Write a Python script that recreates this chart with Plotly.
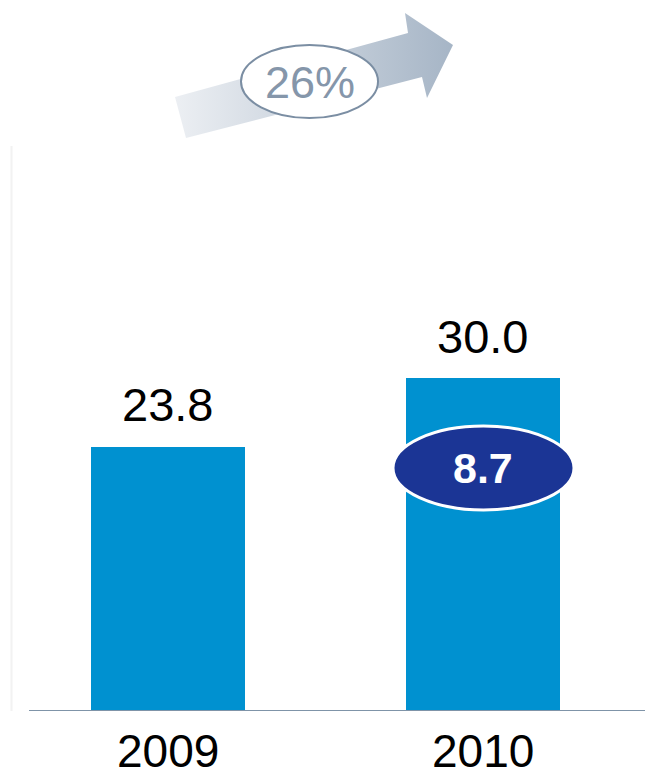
import plotly.graph_objects as go

# Chart values
years = ["2009", "2010"]
totals = [23.8, 30.0]
value_labels = ["23.8", "30.0"]
growth_label = "26%"
highlight_label = "8.7"

W, H = 646, 779
BASE_PX = 711          # y pixel of the axis baseline
PX_PER_UNIT = 11.1     # vertical scale of the bars

FONT = "Liberation Sans, Arial, Helvetica, sans-serif"

fig = go.Figure()

# Bars
fig.add_trace(go.Bar(
    x=years, y=totals, width=0.489,
    marker=dict(color="#0091D0", line=dict(width=0)),
    hoverinfo="skip", showlegend=False,
))

# Value labels above the bars
for i, (v, lab) in enumerate(zip(totals, value_labels)):
    fig.add_annotation(
        x=i, y=v, text=lab, showarrow=False,
        xref="x", yref="y", yanchor="middle", yshift=42,
        font=dict(family=FONT, size=47, color="#000000"),
    )

# Year labels under the baseline
for i, yr in enumerate(years):
    fig.add_annotation(
        x=i, y=0, text=yr, showarrow=False,
        xref="x", yref="y", yanchor="bottom", yshift=-67,
        borderpad=0,
        font=dict(family=FONT, size=46, color="#000000"),
    )

# Growth arrow (pixel overlay axes x2/y2, y grows downward)
arrow_x = [175, 408, 405, 453, 427, 422, 186, 175]
arrow_y = [97, 33, 13, 45, 98, 77, 138, 97]
fig.add_trace(go.Scatter(
    x=arrow_x, y=arrow_y, xaxis="x2", yaxis="y2",
    mode="lines", line=dict(width=0, color="rgba(0,0,0,0)"),
    fill="toself",
    fillgradient=dict(type="horizontal",
                      colorscale=[[0, "#eceff3"], [1, "#a6b5c6"]]),
    hoverinfo="skip", showlegend=False,
))

shapes = [
    # faint left rule
    dict(type="line", xref="x2", yref="y2", x0=11.5, x1=11.5, y0=146, y1=711,
         line=dict(color="#f2f2f2", width=2)),
    # baseline
    dict(type="line", xref="x2", yref="y2", x0=29, x1=645, y0=711.5, y1=711.5,
         line=dict(color="#7f94a8", width=3)),
    # growth ellipse
    dict(type="circle", xref="x2", yref="y2", x0=241, x1=378, y0=45, y1=118,
         fillcolor="#ffffff", line=dict(color="#7b8ea3", width=2)),
    # highlight ellipse
    dict(type="circle", xref="x2", yref="y2", x0=393, x1=574, y0=426, y1=510,
         fillcolor="#1B3595", line=dict(color="#ffffff", width=3)),
]

fig.add_annotation(x=310, y=82, xref="x2", yref="y2", text=growth_label,
                   showarrow=False,
                   font=dict(family=FONT, size=45, color="#8596aa"))
fig.add_annotation(x=483, y=468, xref="x2", yref="y2",
                   text="<b>" + highlight_label + "</b>", showarrow=False,
                   font=dict(family=FONT, size=43, color="#ffffff"))

fig.update_layout(
    width=W, height=H,
    margin=dict(l=0, r=0, t=0, b=H - BASE_PX, pad=0, autoexpand=False),
    paper_bgcolor="white", plot_bgcolor="rgba(0,0,0,0)",
    shapes=shapes,
    bargap=0,
    xaxis=dict(type="category", range=[-0.5333, 1.5175], automargin=False,
               showgrid=False, zeroline=False, showline=False,
               showticklabels=False, ticks="", fixedrange=True),
    yaxis=dict(range=[0, BASE_PX / PX_PER_UNIT], visible=False,
               automargin=False,
               showgrid=False, zeroline=False, fixedrange=True),
    xaxis2=dict(range=[0, W], overlaying="x", anchor="y2", visible=False,
                fixedrange=True),
    yaxis2=dict(range=[BASE_PX, 0], overlaying="y", anchor="x2",
                visible=False, fixedrange=True),
)

fig.write_html("out.html")
